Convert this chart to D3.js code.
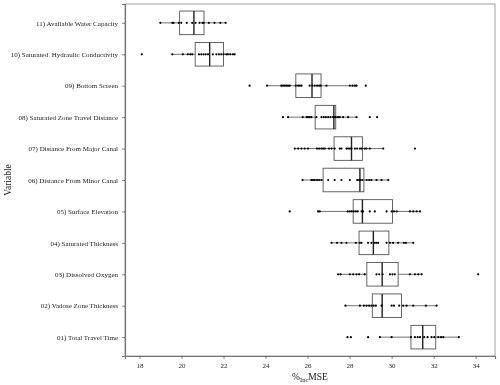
<!DOCTYPE html>
<html>
<head>
<meta charset="utf-8">
<script src="https://cdn.jsdelivr.net/npm/d3@7"></script>
<style>
  body { margin: 0; background: #fff; }
  svg { transform: translateZ(0); }
  svg text { font-family: "Liberation Serif", "Times New Roman", serif; fill: #222; }
</style>
</head>
<body>
<div id="chart"></div>
<script>
// categories, top to bottom
const variables = [
  "11) Available Water Capacity",
  "10) Saturated  Hydraulic Conductivity",
  "09) Bottom Screen",
  "08) Saturated Zone Travel Distance",
  "07) Distance From Major Canal",
  "06) Distance From Minor Canal",
  "05) Surface Elevation",
  "04) Saturated Thickness",
  "03) Dissolved Oxygen",
  "02) Vadose Zone Thickness",
  "01) Total Travel Time"
];

// %IncMSE of each run, one array per variable
const awc = [18.99, 19.56, 19.62, 19.87, 19.99, 20.25, 20.51, 20.67, 20.86, 20.99, 21.05, 21.30, 21.57, 21.85, 22.10];
const ksat = [18.11, 19.56, 20.06, 20.30, 20.42, 20.51, 20.83, 20.94, 21.05, 21.15, 21.26, 21.49, 21.66, 21.78, 21.89, 22.00, 22.13, 22.21, 22.32, 22.45, 22.53];
const bottomScreen = [23.24, 24.07, 24.75, 24.83, 24.91, 24.99, 25.07, 25.15, 25.44, 25.55, 25.63, 25.71, 26.10, 26.23, 26.34, 26.45, 26.55, 26.63, 26.90, 28.01, 28.14, 28.25, 28.33, 28.77];
const satZoneDist = [24.83, 25.07, 25.77, 25.95, 26.02, 26.10, 26.18, 26.42, 26.66, 26.77, 26.87, 26.98, 27.09, 27.21, 27.26, 27.34, 27.45, 27.53, 27.69, 27.93, 28.33, 28.96, 29.31];
const majorCanal = [25.39, 25.55, 25.71, 25.86, 26.02, 26.45, 26.55, 26.66, 26.74, 26.82, 27.02, 27.14, 27.29, 27.53, 27.61, 27.85, 27.93, 28.01, 28.09, 28.25, 28.36, 28.49, 28.57, 28.72, 28.80, 28.96, 29.60, 31.11];
const minorCanal = [25.76, 26.18, 26.26, 26.34, 26.45, 26.55, 26.66, 26.98, 27.29, 27.61, 28.01, 28.36, 28.45, 28.52, 28.61, 28.81, 28.93, 29.04, 29.28, 29.52, 29.84];
const elevation = [25.15, 26.50, 26.58, 27.91, 28.01, 28.10, 28.20, 28.30, 28.39, 28.57, 28.64, 28.96, 29.20, 29.76, 30.00, 30.11, 30.24, 30.87, 31.03, 31.19, 31.35];
const satThickness = [27.14, 27.40, 27.61, 27.85, 28.30, 28.49, 28.57, 28.88, 29.04, 29.20, 29.28, 29.36, 29.76, 29.92, 30.07, 30.31, 30.58, 30.68, 31.03];
const dissolvedO2 = [27.45, 27.57, 28.01, 28.17, 28.33, 28.45, 28.72, 29.28, 29.41, 29.57, 29.92, 30.04, 30.15, 30.87, 31.11, 31.27, 31.43, 34.12];
const vadoseThickness = [27.80, 28.49, 28.68, 28.81, 28.93, 29.04, 29.15, 29.25, 29.52, 30.00, 30.11, 30.36, 30.55, 30.71, 31.03, 31.63, 32.14];
const travelTime = [27.90, 28.06, 28.88, 29.44, 30.00, 30.92, 31.11, 31.24, 31.35, 31.55, 31.71, 31.90, 32.03, 32.22, 32.35, 32.46, 33.20];

const runs = [awc, ksat, bottomScreen, satZoneDist, majorCanal, minorCanal, elevation, satThickness, dissolvedO2, vadoseThickness, travelTime];

// box statistics, same order as variables
const whiskerLo = [18.99, 19.56, 24.07, 25.07, 25.39, 25.76, 26.50, 27.14, 27.45, 27.80, 29.44];
const q1 =        [19.91, 20.65, 25.44, 26.36, 27.26, 26.74, 28.17, 28.45, 28.82, 29.08, 30.92];
const medians =   [20.59, 21.34, 26.21, 27.25, 28.09, 28.49, 28.61, 29.13, 29.55, 29.55, 31.48];
const q3 =        [21.07, 22.00, 26.64, 27.34, 28.61, 28.68, 30.04, 29.87, 30.31, 30.47, 32.10];
const whiskerHi = [22.10, 22.53, 28.33, 28.33, 29.60, 29.84, 31.35, 31.03, 31.43, 32.14, 33.20];

const xTicks = [18, 20, 22, 24, 26, 28, 30, 32, 34];

const width = 500, height = 385;
const margin = { top: 4, right: 5, bottom: 29, left: 125 };

const svg = d3.select("#chart").append("svg")
  .attr("width", width)
  .attr("height", height);

const all = runs.flat();
const [lo, hi] = d3.extent(all);
const pad = (hi - lo) * 0.05;

const x = d3.scaleLinear()
  .domain([lo - pad, hi + pad])
  .range([margin.left, width - margin.right]);

const y = d3.scalePoint()
  .domain(variables)
  .range([margin.top, height - margin.bottom])
  .padding(0.6);

const boxH = y.step() * 0.75;

// panel border
svg.append("rect")
  .attr("x", margin.left)
  .attr("y", margin.top)
  .attr("width", width - margin.right - margin.left)
  .attr("height", height - margin.bottom - margin.top)
  .attr("fill", "none")
  .attr("stroke", "#8a8a8a")
  .attr("stroke-width", 0.8);

// axes
svg.append("g")
  .attr("transform", `translate(0,${height - margin.bottom})`)
  .call(d3.axisBottom(x).tickValues(xTicks).tickSize(3).tickPadding(4))
  .call(g => g.select(".domain").attr("stroke", "#777").attr("stroke-width", 1.2))
  .call(g => g.selectAll(".tick line").attr("stroke", "#333").attr("stroke-width", 0.6))
  .call(g => g.selectAll(".tick text").attr("font-size", 7).attr("fill", "#222"));

svg.append("g")
  .attr("transform", `translate(${margin.left},0)`)
  .call(d3.axisLeft(y).tickSize(3).tickPadding(4))
  .call(g => g.select(".domain").attr("stroke", "#777").attr("stroke-width", 1.2))
  .call(g => g.selectAll(".tick line").attr("stroke", "#333").attr("stroke-width", 0.6))
  .call(g => g.selectAll(".tick text").attr("font-size", 7).attr("fill", "#222").style("white-space", "pre"));

// boxplots
const boxes = svg.append("g").attr("class", "boxes");

variables.forEach((name, i) => {
  const cy = y(name);
  const g = boxes.append("g");

  g.append("line")
    .attr("x1", x(whiskerLo[i])).attr("x2", x(q1[i]))
    .attr("y1", cy).attr("y2", cy)
    .attr("stroke", "#333").attr("stroke-width", 0.7);

  g.append("line")
    .attr("x1", x(q3[i])).attr("x2", x(whiskerHi[i]))
    .attr("y1", cy).attr("y2", cy)
    .attr("stroke", "#333").attr("stroke-width", 0.7);

  g.append("rect")
    .attr("x", x(q1[i]))
    .attr("y", cy - boxH / 2)
    .attr("width", x(q3[i]) - x(q1[i]))
    .attr("height", boxH)
    .attr("fill", "#fff")
    .attr("stroke", "#555")
    .attr("stroke-width", 0.9);

  g.append("line")
    .attr("x1", x(medians[i])).attr("x2", x(medians[i]))
    .attr("y1", cy - boxH / 2).attr("y2", cy + boxH / 2)
    .attr("stroke", "#222").attr("stroke-width", 1.4);
});

// individual runs
const dots = svg.append("g").attr("class", "dots");
variables.forEach((name, i) => {
  dots.selectAll(null)
    .data(runs[i])
    .join("circle")
    .attr("cx", d => x(d))
    .attr("cy", y(name))
    .attr("r", 1.1)
    .attr("fill", "#000");
});

// axis titles
const xt = svg.append("text")
  .attr("x", (margin.left + width - margin.right) / 2)
  .attr("y", height - 5)
  .attr("text-anchor", "middle")
  .attr("font-size", 9.5);
xt.append("tspan").text("%");
xt.append("tspan").text("Inc").attr("font-size", 6.5).attr("dy", 2);
xt.append("tspan").text("MSE").attr("dy", -2);

svg.append("text")
  .attr("transform", `translate(11,${(margin.top + height - margin.bottom) / 2}) rotate(-90)`)
  .attr("text-anchor", "middle")
  .attr("font-size", 9.5)
  .text("Variable");
</script>
</body>
</html>
